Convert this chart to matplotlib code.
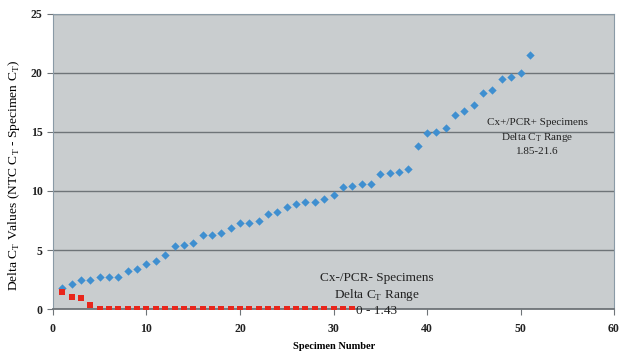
import numpy as np
import matplotlib.pyplot as plt

# Cx+/PCR+ specimens, delta Ct per specimen (sorted)
pos_x = list(range(1, 52))
pos_y = [1.82, 2.08, 2.42, 2.5, 2.68, 2.7, 2.7, 3.2, 3.4, 3.8,
         4.1, 4.6, 5.35, 5.46, 5.57, 6.3, 6.3, 6.4, 6.9, 7.33,
         7.33, 7.48, 8.05, 8.24, 8.67, 8.87, 9.07, 9.07, 9.3, 9.63,
         10.3, 10.4, 10.6, 10.6, 11.45, 11.5, 11.6, 11.9, 13.8, 14.9,
         15.0, 15.3, 16.4, 16.8, 17.3, 18.3, 18.6, 19.5, 19.7, 20.0, 21.5]

# Cx-/PCR- specimens
neg_x = list(range(1, 33))
neg_y = [1.43, 1.02, 0.91, 0.37] + [0] * 28

x_ticks = [0, 10, 20, 30, 40, 50, 60]
y_ticks = [0, 5, 10, 15, 20, 25]

plt.rcParams['font.family'] = ['Liberation Serif', 'DejaVu Serif']
plt.rcParams['mathtext.fontset'] = 'custom'
plt.rcParams['mathtext.rm'] = 'Liberation Serif'

fig = plt.figure(figsize=(6.19, 3.54), dpi=100)
ax = fig.add_axes([0.0856, 0.1271, 0.9064, 0.8334])
ax.set_facecolor('#c9cdcf')

ax.scatter(pos_x, pos_y, marker='D', s=18, color='#3f8fd0', zorder=3, linewidths=0)
ax.scatter(neg_x, neg_y, marker='s', s=16, color='#e8261c', zorder=3, linewidths=0)

ax.set_xlim(0, 60)
ax.set_ylim(0, 25)
ax.set_xticks(x_ticks)
ax.set_yticks(y_ticks)
ax.yaxis.grid(True, color='#6e7478', linewidth=1.0)
ax.set_axisbelow(True)
for s in ax.spines.values():
    s.set_color('#8a9aa6')
ax.spines['bottom'].set_color('#6e7478')
ax.spines['bottom'].set_linewidth(1.3)
ax.tick_params(colors='#6e7478', length=4, labelsize=8.5, labelcolor='#222222')
ax.tick_params(axis='x', pad=6)
for lab in ax.get_xticklabels() + ax.get_yticklabels():
    lab.set_fontweight('bold')

# axis titles placed on the figure so they sit where the original has them
fig.text(0.54, 0.02, 'Specimen Number', fontsize=7.5, fontweight='bold',
         ha='center', va='center')
fig.text(0.022, 0.505,
         'Delta C$_\\mathrm{T}$ Values (NTC C$_\\mathrm{T}$ - Specimen C$_\\mathrm{T}$)',
         fontsize=9.7, rotation=90, ha='center', va='center')

ax.text(51.8, 14.6, 'Cx+/PCR+ Specimens\nDelta C$_\\mathrm{T}$ Range\n1.85-21.6',
        ha='center', va='center', fontsize=8, linespacing=1.45, color='#222222')
ax.text(34.65, 1.2, 'Cx-/PCR- Specimens\nDelta C$_\\mathrm{T}$ Range\n0 - 1.43',
        ha='center', va='center', fontsize=9.5, linespacing=1.25, color='#222222')

fig.savefig('out.png', dpi=100)
